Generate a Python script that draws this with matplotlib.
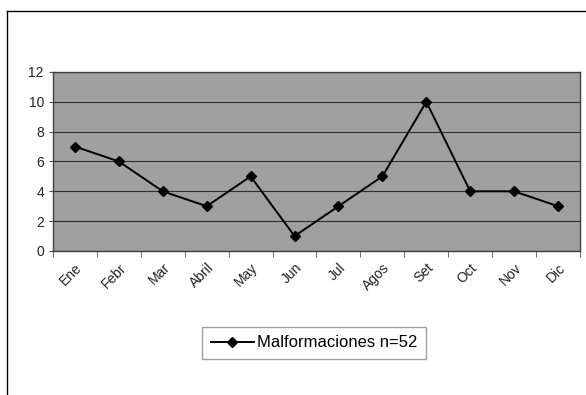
import matplotlib
matplotlib.use("Agg")
import matplotlib.pyplot as plt
from matplotlib.lines import Line2D
import numpy as np

months = ["Ene", "Febr", "Mar", "Abril", "May", "Jun",
          "Jul", "Agos", "Set", "Oct", "Nov", "Dic"]
malformaciones = [7, 6, 4, 3, 5, 1, 3, 5, 10, 4, 4, 3]
y_ticks = [0, 2, 4, 6, 8, 10, 12]

plt.rcParams["font.family"] = "Liberation Sans"

fig = plt.figure(figsize=(5.86, 3.95), dpi=100)
ax = fig.add_axes([0.0904, 0.3646, 0.8994, 0.4532])
ax.set_facecolor("#a0a0a0")

x = np.arange(len(months))
ax.plot(x, malformaciones, color="black", lw=1.4, marker="D", ms=5,
        label="Malformaciones n=52")

ax.set_xlim(-0.5, len(months) - 0.5)
ax.set_ylim(0, 12)
ax.set_yticks(y_ticks)
ax.yaxis.grid(True, color="#303030", lw=0.8)
ax.set_axisbelow(True)

# category labels centred, tick marks on the boundaries
ax.set_xticks(x)
ax.set_xticklabels(months, rotation=45, ha="right", rotation_mode="anchor",
                   fontsize=10, color="#222222")
ax.tick_params(axis="x", length=0, pad=7)
ax.set_xticks(np.arange(-0.5, len(months)), minor=True)
ax.tick_params(axis="x", which="minor", length=4, color="#555555")
ax.tick_params(axis="y", length=3, color="#555555", labelsize=10,
               labelcolor="#222222")

for s in ax.spines.values():
    s.set_color("#404040")
    s.set_linewidth(1.0)

fig.legend(loc="center", bbox_to_anchor=(0.536, 0.132),
           frameon=True, fancybox=False, edgecolor="#888888",
           fontsize=12, handlelength=2.6, handletextpad=0.2, borderpad=0.5)

# outer frame (left and top edges)
fig.add_artist(Line2D([7 / 586, 7 / 586], [0, 1 - 11 / 395],
                      color="black", lw=1.0))
fig.add_artist(Line2D([7 / 586, 1], [1 - 11 / 395, 1 - 11 / 395],
                      color="black", lw=1.0))

fig.savefig("out.png", dpi=100)
